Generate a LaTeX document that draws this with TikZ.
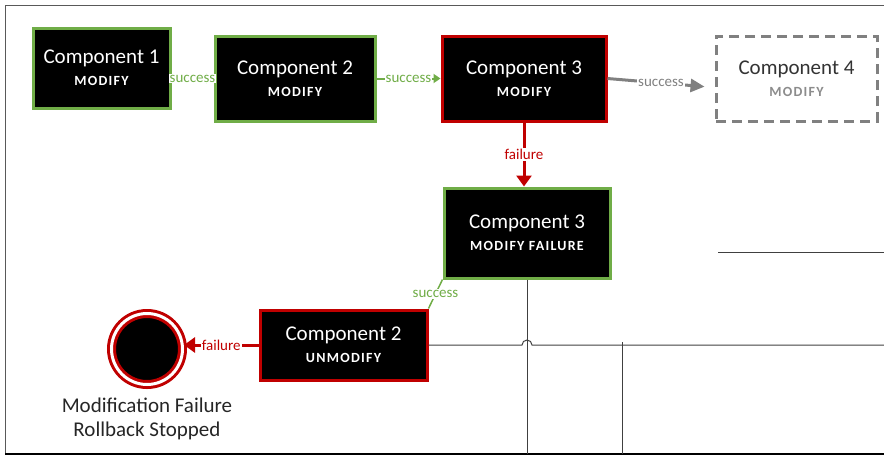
\documentclass[tikz,border=0pt]{standalone}
\usepackage{fontspec}
\setmainfont{Carlito}
\newfontfamily\capsfont[LetterSpace=9]{Carlito}
\usetikzlibrary{arrows.meta,calc}

\definecolor{okgreen}{RGB}{112,173,71}
\definecolor{badred}{RGB}{192,0,0}
\definecolor{ghost}{RGB}{128,128,128}

\newcommand{\comptext}[2]{{\fontsize{21}{24}\selectfont #1}\\[8pt]{\capsfont\bfseries\fontsize{14}{16}\selectfont #2}}

\tikzset{
  comp/.style={draw=okgreen, line width=3pt, fill=black, text=white, align=center, inner sep=0pt},
  compbad/.style={comp, draw=badred},
  compghost/.style={comp, draw=ghost, fill=white, text=black!80, dash pattern=on 10pt off 6pt},
  lbl/.style={midway, fill=white, inner sep=1pt, font=\fontsize{15}{16}\selectfont},
  succ/.style={okgreen, line width=2pt, -{Triangle[length=7pt,width=9pt]}},
  fail/.style={badred, line width=3pt, -{Triangle[length=11pt,width=15pt]}},
  wire/.style={black!75, line width=1pt}
}

\begin{document}
\begin{tikzpicture}[x=1pt,y=-1pt]
  \useasboundingbox (0,0) rectangle (884,456);
  % frame
  \draw[black!65, line width=1pt] (884,5) -- (5,5) -- (5,454);
  \draw[black, line width=1.5pt] (5,454) -- (884,454);

  % components
  \node[comp, minimum width=137, minimum height=80] (c1) at (101.5,68) {\comptext{Component 1}{MODIFY}};
  \node[comp, minimum width=160, minimum height=85] (c2) at (295,78.5) {\comptext{Component 2}{MODIFY}};
  \node[compbad, minimum width=164, minimum height=85] (c3) at (524,78.5) {\comptext{Component 3}{MODIFY}};
  \node[compghost, minimum width=161, minimum height=85] (c4) at (796.5,78.5) {\comptext{Component 4}{\textcolor{black!45}{MODIFY}}};
  \node[comp, minimum width=166, minimum height=90] (c3f) at (527,233) {\comptext{Component 3}{MODIFY FAILURE}};
  \node[compbad, minimum width=167, minimum height=70] (c2u) at (343.5,345) {\comptext{Component 2}{UNMODIFY}};

  % end event
  \node[circle, draw=badred, double=white, double distance=3pt, line width=3pt, fill=black, minimum size=71] (endev) at (147,349) {};
  \node[align=center, font=\fontsize{21}{24}\selectfont, text=black!85] (endlbl) at (147,419) {Modification Failure\\Rollback Stopped};

  % connectors
  \draw[succ] (c1.east |- c2.west) -- (c2.west) node[lbl, text=okgreen] {success};
  \draw[succ] (c2.east) -- (c3.west) node[lbl, text=okgreen] {success};
  \draw[ghost, line width=3pt, -{Triangle[length=14pt,width=13pt]}, shorten >=10pt] (c3.east) -- ([yshift=-9pt]c4.west) node[lbl, text=ghost] {success};
  \draw[fail] (c3.south) -- (c3.south |- c3f.north) node[lbl, text=badred] {failure};
  \draw[okgreen, line width=1.5pt] (c3f.south west) -- (c2u.north east) node[lbl, text=okgreen] {success};
  \draw[fail] (c2u.west) -- (c2u.west -| endev.east) node[lbl, text=badred] {failure};

  % lines running off the page
  \coordinate (bot1) at (c3f.south |- 0,454);
  \coordinate (edge1) at (884,345);
  \coordinate (top2) at (622,342);
  \coordinate (bot2) at (622,454);
  \coordinate (left3) at (718,252);
  \coordinate (edge3) at (884,252);
  \draw[wire] (c3f.south) -- (bot1);
  \draw[wire] (c2u.east) -- ($(c3f.south |- c2u.east)+(-5,0)$) arc[start angle=180, end angle=0, radius=5pt] -- (edge1);
  \draw[wire] (top2) -- (bot2);
  \draw[wire] (left3) -- (edge3);
\end{tikzpicture}
\end{document}
